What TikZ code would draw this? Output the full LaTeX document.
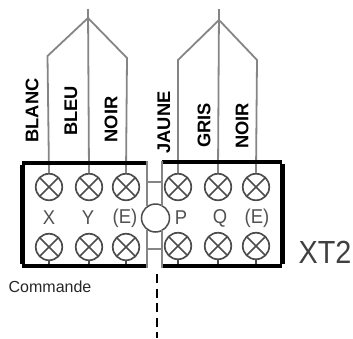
\documentclass[tikz,border=0pt]{standalone}
\usepackage{fontspec}
\setmainfont{Liberation Sans}
\definecolor{wire}{gray}{0.52}
\definecolor{screwc}{gray}{0.3}
\definecolor{termtext}{gray}{0.32}
\tikzset{
  wireline/.style={draw=wire,line width=1.8pt},
  frameline/.style={draw=black,line width=3.5pt},
  sideline/.style={draw=black,line width=5pt},
  splitline/.style={draw=wire,line width=1.5pt},
  screw/.style={circle,draw=screwc,line width=1.7pt,minimum size=26.5pt,inner sep=0pt,
    path picture={\draw[screwc,line width=1.6pt]
      (path picture bounding box.south west)--(path picture bounding box.north east)
      (path picture bounding box.south east)--(path picture bounding box.north west);}},
  colour/.style={rotate=90,font=\bfseries\fontsize{18.3}{19}\selectfont,inner sep=0pt,text=black},
  termlabel/.style={font=\fontsize{20}{22}\selectfont,xscale=0.92,inner sep=0pt,text=termtext},
}
\begin{document}
\begin{tikzpicture}[x=1pt,y=-1pt]
\useasboundingbox (0,0) rectangle (353,338);
% screws
\node[screw] (a1) at (49,187) {};
\node[screw] (a2) at (89,187) {};
\node[screw] (a3) at (126,187) {};
\node[screw] (a4) at (178,187) {};
\node[screw] (a5) at (218,187) {};
\node[screw] (a6) at (256,187) {};
\node[screw] (b1) at (49,247) {};
\node[screw] (b2) at (89,247) {};
\node[screw] (b3) at (126,247) {};
\node[screw] (b4) at (178,246) {};
\node[screw] (b5) at (218,246) {};
\node[screw] (b6) at (256,246) {};
% wire groups
\coordinate (j1) at (88,18);
\coordinate (t1) at (88,9);
\coordinate (l1) at (47.5,56);
\coordinate (r1) at (127,58);
\coordinate (j2) at (219,20);
\coordinate (t2) at (219,9);
\coordinate (l2) at (178,60);
\coordinate (r2) at (257,60);
\draw[wireline] (a1.north) -- (l1) -- (j1) -- (r1) -- (a3.north);
\draw[wireline] (a2.north) -- (t1);
\draw[wireline] (a4.north) -- (l2) -- (j2) -- (r2) -- (a6.north);
\draw[wireline] (a5.north) -- (t2);
% lower stubs
\foreach \s in {b1,b2,b3,b4,b5,b6}
  \draw[screwc,line width=1.5pt] (\s.south) -- ++(0,4);
% frames
\coordinate (ltl) at (22,163);
\coordinate (ltr) at (147.5,163);
\coordinate (lbl) at (22,266);
\coordinate (lbr) at (147.5,266);
\coordinate (rtl) at (162,162);
\coordinate (rtr) at (282,162);
\coordinate (rbl) at (162,266);
\coordinate (rbr) at (282,266);
\draw[frameline] (ltr) -- (ltl);
\draw[frameline] (lbr) -- (lbl);
\draw[sideline] ([yshift=-1.7pt]ltl) -- ([yshift=1.7pt]lbl);
\draw[frameline] (rtl) -- (rtr);
\draw[frameline] (rbl) -- (rbr);
\draw[sideline] ([yshift=-1.7pt]rtr) -- ([yshift=1.7pt]rbr);
% central split
\node[circle,draw=screwc,line width=1.5pt,minimum size=28pt,inner sep=0pt,fill=white] (hub) at (155.5,218) {};
\draw[splitline] (147,161) -- (147,206) (147,230) -- (147,268);
\draw[splitline] (162,161) -- (162,206) (162,230) -- (162,268);
\draw[splitline] (147,182) -- (162,182) (147,249) -- (162,249);
% dashed line
\coordinate (d1) at (157,274);
\coordinate (d2) at (157,338);
\draw[black,line width=2pt,dash pattern=on 9pt off 5.5pt] (d1) -- (d2);
% terminal labels
\node[termlabel] (tx) at (49,218) {X};
\node[termlabel] (ty) at (88,218) {Y};
\node[termlabel] (te1) at (125,218) {(E)};
\node[termlabel] (tp) at (181,218) {P};
\node[termlabel] (tq) at (220,218) {Q};
\node[termlabel] (te2) at (257,218) {(E)};
% colour labels
\node[colour] (c1) at (32,110.5) {BLANC};
\node[colour] (c2) at (71,111) {BLEU};
\node[colour] (c3) at (111,119.5) {NOIR};
\node[colour] (c4) at (164,122.5) {JAUNE};
\node[colour] (c5) at (204,125.5) {GRIS};
\node[colour] (c6) at (242,126) {NOIR};
% other text
\node[font=\fontsize{16}{18}\selectfont,inner sep=0pt,text=black!85] (cmd) at (50,287) {Commande};
\node[font=\fontsize{32}{34}\selectfont,xscale=0.9,inner sep=0pt,text=black!75] (xt) at (325,252) {XT2};
\end{tikzpicture}
\end{document}
